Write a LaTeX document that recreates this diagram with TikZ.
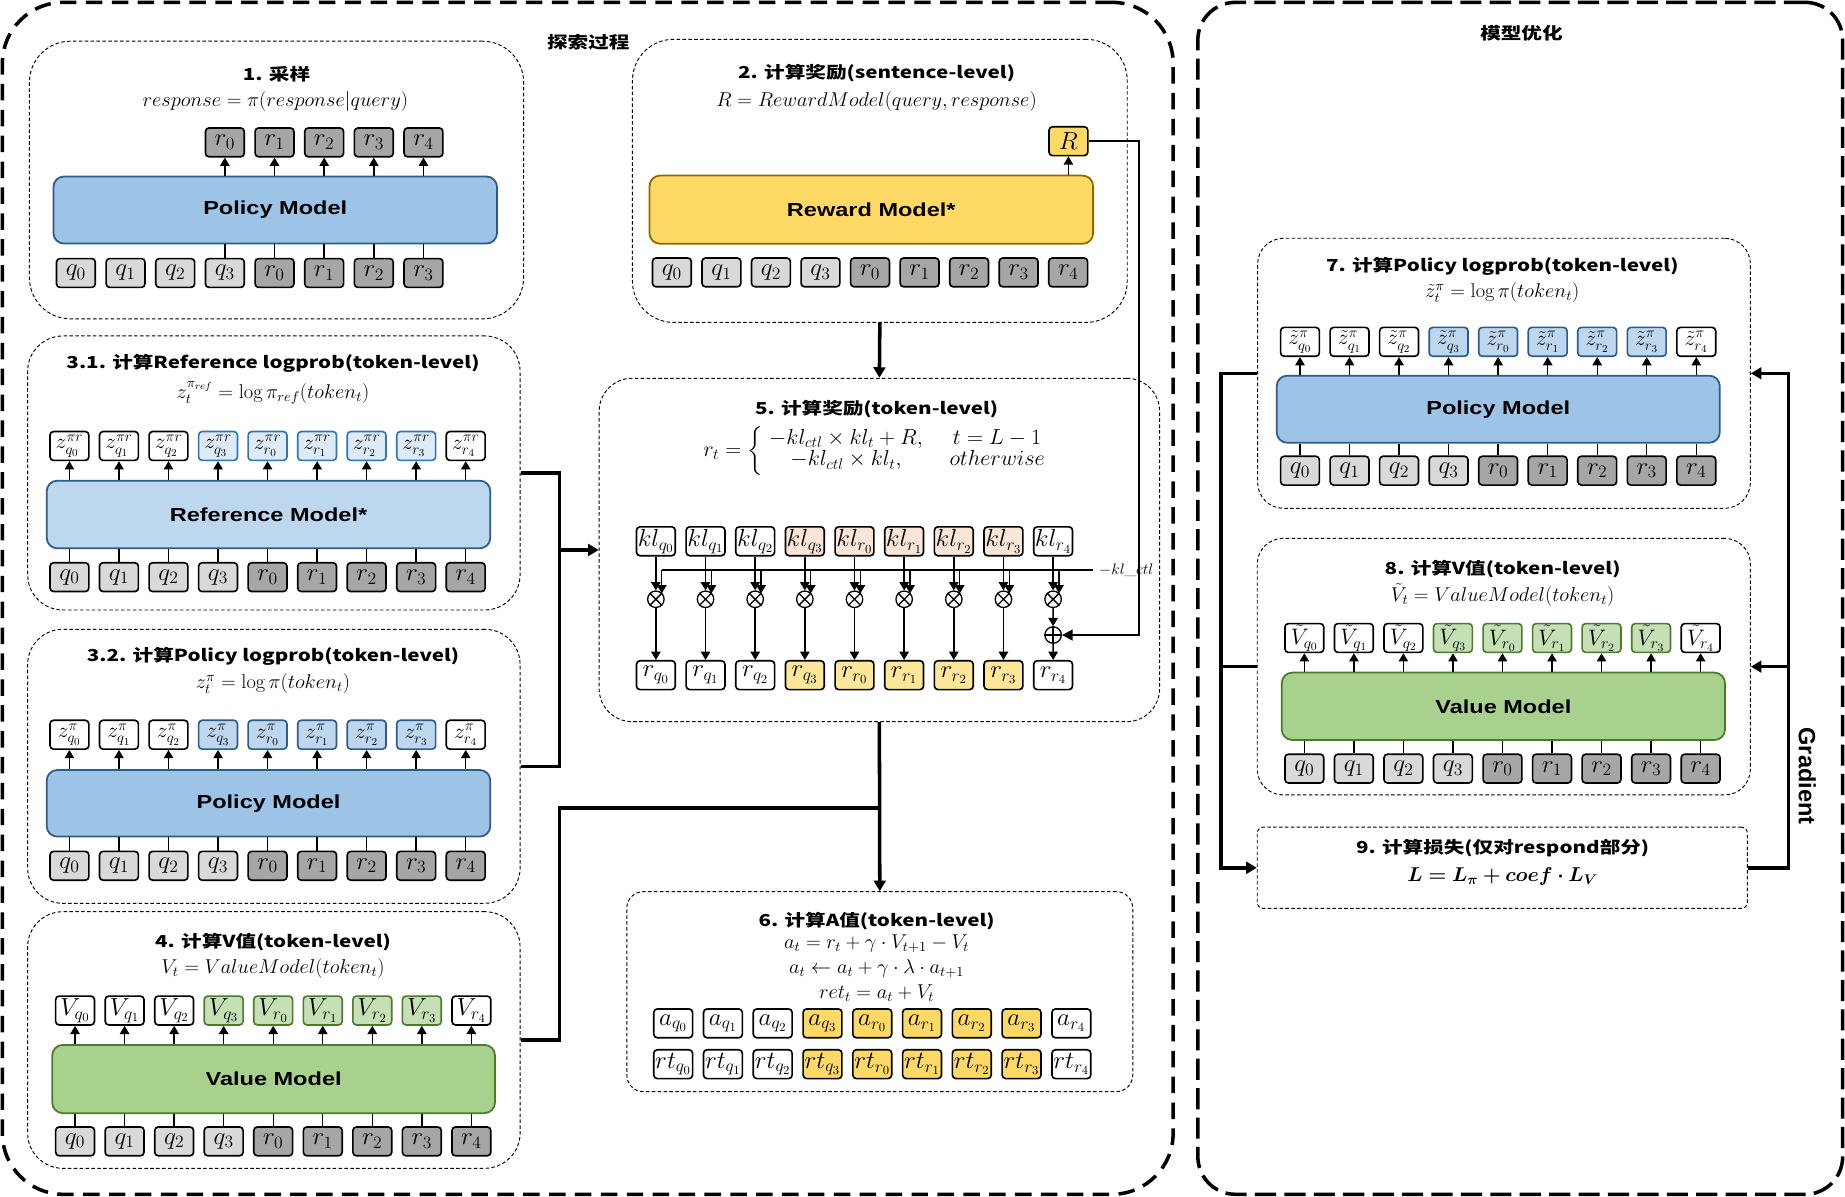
\documentclass[tikz,border=0pt]{standalone}
\usepackage{fix-cm}
\usepackage{amsmath}
\usepackage{bm}
\usepackage{fontspec}
\usepackage{graphicx}
\usetikzlibrary{arrows.meta,calc}
\newfontfamily\cjkf{Noto Sans CJK SC}[FakeStretch=1.25]
\newfontfamily\arialf{Liberation Sans}[FakeStretch=1.25]
\newfontfamily\arialn{Liberation Sans}
\newcommand\hs[1]{\scalebox{1.02}[1]{#1}}
\definecolor{qgray}{HTML}{D9D9D9}
\definecolor{rgray}{HTML}{A6A6A6}
\definecolor{pblue}{HTML}{9DC3E6}
\definecolor{refblue}{HTML}{BDD7EE}
\definecolor{lblue}{HTML}{BDD7EE}
\definecolor{llblue}{HTML}{DEEBF7}
\definecolor{dblue}{HTML}{2E5C8A}
\definecolor{mblue}{HTML}{2E75B6}
\definecolor{vgreen}{HTML}{A9D18E}
\definecolor{lgreen}{HTML}{C5E0B4}
\definecolor{dgreen}{HTML}{4E7A2E}
\definecolor{ryellow}{HTML}{FFD966}
\definecolor{dgold}{HTML}{8C6A00}
\definecolor{peach}{HTML}{FBE5D6}
\definecolor{lyellow}{HTML}{FFE699}
\definecolor{ayellow}{HTML}{FFD966}
\tikzset{
 tok/.style={draw, line width=1.4pt, rounded corners=3pt, minimum width=33pt, minimum height=24.5pt, inner sep=0pt, font=\fontsize{21}{21}\selectfont},
 ztok/.style={tok, font=\fontsize{18}{18}\selectfont},
 vtok/.style={tok, font=\fontsize{19}{19}\selectfont},
 bar/.style={draw, line width=1.5pt, rounded corners=9pt, inner sep=0pt, font=\arialf\bfseries\fontsize{16}{16}\selectfont},
 sect/.style={draw, line width=0.8pt, dash pattern=on 3pt off 2pt, inner sep=0pt},
 outerL/.style={draw, line width=3pt, dash pattern=on 14pt off 8pt, rounded corners=52pt, inner sep=0pt},
 outerR/.style={draw, line width=3pt, dash pattern=on 18pt off 7pt, rounded corners=32pt, inner sep=0pt},
 title/.style={font=\cjkf\bfseries\fontsize{14}{14}\selectfont, inner sep=0pt},
 fml/.style={font=\fontsize{17}{17}\selectfont, inner sep=0pt},
 arr/.style={line width=1.2pt, -{Triangle[width=8pt,length=7pt]}},
 link/.style={line width=1.2pt},
 conn/.style={line width=3pt},
 carr/.style={line width=3pt, -{Triangle[width=10pt,length=9pt]}},
 opnode/.style={circle, draw, line width=1.1pt, minimum size=14pt, inner sep=0pt},
}
\newcommand\inrow[5]{%
  \foreach \s [count=\i from 0] in {q_0,q_1,q_2,q_3,r_0,r_1,r_2,r_3,r_4}{%
    \ifnum\i>#5\relax\else
    \ifnum\i<4 \def\fc{qgray}\else\def\fc{rgray}\fi
    \node[tok, fill=\fc] (#1\i) at ({#2+#3*\i},#4) {\hs{$\s$}};
    \fi
  }}
\newcommand\outrow[8]{%
  \foreach \s [count=\i from 0] in {q_0,q_1,q_2,q_3,r_0,r_1,r_2,r_3,r_4}{%
    \ifnum\i<3 \def\fc{white}\def\dc{black}\else
      \ifnum\i<8 \def\fc{#6}\def\dc{#7}\else\def\fc{white}\def\dc{black}\fi\fi
    \node[#8, fill=\fc, draw=\dc] (#1\i) at ({#2+#3*\i},#4) {\hs{$#5_{\s}$}};
  }}
\begin{document}
\begin{tikzpicture}[x=1pt,y=-1pt]
\useasboundingbox (0,0) rectangle (1568,1017);
% outer frames
\node[outerL, minimum width=995pt, minimum height=1013pt] (OL) at (499.5,508.5) {};
\node[outerR, minimum width=548pt, minimum height=1013pt] (OR) at (1292,508.5) {};
\node[title] (tl) at (500,36) {探索过程};
\node[title] (tr) at (1293,28) {模型优化};
% section frames
\node[sect, rounded corners=35pt, minimum width=420pt, minimum height=236pt] (S1) at (235,153) {};
\node[sect, rounded corners=35pt, minimum width=420.5pt, minimum height=240.6pt] (S2) at (747.75,153.7) {};
\node[sect, rounded corners=30pt, minimum width=418.5pt, minimum height=232.9pt] (S31) at (232.75,401.95) {};
\node[sect, rounded corners=30pt, minimum width=418.5pt, minimum height=232.9pt] (S32) at (232.75,651.25) {};
\node[sect, rounded corners=30pt, minimum width=418.5pt, minimum height=218.1pt] (S4) at (232.75,883.85) {};
\node[sect, rounded corners=28pt, minimum width=476.3pt, minimum height=291.8pt] (S5) at (747.35,467.4) {};
\node[sect, rounded corners=14pt, minimum width=430pt, minimum height=169.9pt] (S6) at (747.7,842.75) {};
\node[sect, rounded corners=22pt, minimum width=418.8pt, minimum height=229.5pt] (S7) at (1278.2,317.25) {};
\node[sect, rounded corners=22pt, minimum width=419.1pt, minimum height=218.1pt] (S8) at (1278.05,566.55) {};
\node[sect, rounded corners=5pt, minimum width=416.5pt, minimum height=69pt] (S9) at (1276.75,737.5) {};

% ---------- S1
\node[title] (t1) at (235,63) {1. 采样};
\node[fml] (f1) at (234,86) {\hs{$response = \pi(response|query)$}};
\node[bar, fill=pblue, draw=dblue, minimum width=377pt, minimum height=57pt] (s1bar) at (233.9,178.5) {Policy Model};
\inrow{s1in}{64.5}{42.2}{232}{7}
\foreach \s [count=\i from 3] in {r_0,r_1,r_2,r_3,r_4}{
  \node[tok, fill=rgray] (s1out\i) at ({64.5+42.2*\i},121) {\hs{$\s$}};
  \draw[arr] (s1out\i.south |- s1bar.north) -- (s1out\i.south);
}
\foreach \i in {3,...,7}{ \draw[link] (s1in\i.north) -- (s1in\i.north |- s1bar.south); }

% ---------- S2
\node[title] (t2) at (745,62) {2. 计算奖励(sentence-level)};
\node[fml] (f2) at (745,86) {\hs{$R = RewardModel(query,response)$}};
\node[bar, fill=ryellow, draw=dgold, minimum width=377pt, minimum height=58pt] (s2bar) at (740.5,178.2) {Reward Model*};
\inrow{s2in}{571}{42.1}{231.5}{8}
\node[tok, fill=ayellow] (Rb) at (908,120) {\hs{$R$}};
\draw[arr] (Rb.south |- s2bar.north) -- (Rb.south);

% ---------- S3.1
\node[title] (t31) at (232,309) {3.1. 计算Reference logprob(token-level)};
\node[fml] (f31) at (232,334) {\hs{$z_t^{\pi_{ref}} = \log\pi_{ref}(token_t)$}};
\node[bar, fill=refblue, draw=dblue, minimum width=377pt, minimum height=57.5pt] (s31bar) at (228.2,437.25) {Reference Model*};
\outrow{s31out}{59}{42.1}{379}{z^{\pi r}}{llblue}{mblue}{ztok}
\inrow{s31in}{59}{42.1}{490.5}{8}
\foreach \i in {0,...,8}{
  \draw[link] (s31in\i.north) -- (s31in\i.north |- s31bar.south);
  \draw[arr] (s31out\i.south |- s31bar.north) -- (s31out\i.south);
}

% ---------- S3.2
\node[title] (t32) at (232,557.5) {3.2. 计算Policy logprob(token-level)};
\node[fml] (f32) at (232,581) {\hs{$z_t^{\pi} = \log\pi(token_t)$}};
\node[bar, fill=pblue, draw=dblue, minimum width=377pt, minimum height=56.6pt] (s32bar) at (228.2,682.7) {Policy Model};
\outrow{s32out}{59}{42.1}{624.4}{z^{\pi}}{lblue}{dblue}{ztok}
\inrow{s32in}{59}{42.1}{735.8}{8}
\foreach \i in {0,...,8}{
  \draw[link] (s32in\i.north) -- (s32in\i.north |- s32bar.south);
  \draw[arr] (s32out\i.south |- s32bar.north) -- (s32out\i.south);
}

% ---------- S4
\node[title] (t4) at (232,800.5) {4. 计算V值(token-level)};
\node[fml] (f4) at (232,823.5) {\hs{$V_t = ValueModel(token_t)$}};
\node[bar, fill=vgreen, draw=dgreen, minimum width=376.3pt, minimum height=58pt] (s4bar) at (232.55,917) {Value Model};
\outrow{s4out}{63.8}{42.1}{858.8}{V}{lgreen}{dgreen}{tok}
\inrow{s4in}{63.8}{42.1}{970}{8}
\foreach \i in {0,...,8}{
  \draw[link] (s4in\i.north) -- (s4in\i.north |- s4bar.south);
  \draw[arr] (s4out\i.south |- s4bar.north) -- (s4out\i.south);
}

% ---------- S5
\node[title] (t5) at (745,348) {5. 计算奖励(token-level)};
\node[fml, font=\fontsize{18.5}{18.5}\selectfont] (f5) at (746,383) {\hs{$r_t = \left\{\begin{array}{c@{\hspace{1.2em}}c} -kl_{ctl}\times kl_t + R, & t = L-1\\ -kl_{ctl}\times kl_t, & otherwise \end{array}\right.$}};
\outrow{kl}{557.4}{42.2}{460}{kl}{peach}{black}{tok}
\outrow{rr}{557.4}{42.2}{573.8}{r}{lyellow}{black}{tok}
\foreach \i in {0,...,8}{
  \node[opnode] (ot\i) at ({557.4+42.2*\i},509.3) {};
  \draw[line width=1.1pt] (ot\i.north west) -- (ot\i.south east) (ot\i.north east) -- (ot\i.south west);
}
\node[opnode] (plus) at (895,539.7) {};
\draw[line width=1.1pt] (plus.north) -- (plus.south) (plus.west) -- (plus.east);
\coordinate (klend) at (929,484.3);
\draw[line width=1.4pt] ($(ot0.center)+(5,-25)$) -- (klend);
\node[anchor=west, inner sep=0pt, font=\fontsize{13}{13}\selectfont] (kllab) at (934,484.3) {\hs{$-kl\_ctl$}};
\foreach \i in {0,...,8}{
  \draw[arr] (kl\i.south) -- (ot\i.north);
  \draw[arr] ($(ot\i.center)+(5,-25)$) -- ($(ot\i.center)+(5,-5)$);
}
\foreach \i in {0,...,7}{ \draw[arr] (ot\i.south) -- (rr\i.north); }
\draw[arr] (ot8.south) -- (plus.north);
\draw[arr] (plus.south) -- (rr8.north);
\draw[line width=2pt, -{Triangle[width=9pt,length=9pt]}] (Rb.east) -- ++(43,0) |- (plus.east);

% ---------- S6
\node[title] (t6) at (745,783) {6. 计算A值(token-level)};
\node[fml] (f6a) at (745,801.7) {\hs{$a_t = r_t + \gamma\cdot V_{t+1} - V_t$}};
\node[fml] (f6b) at (745,822.9) {\hs{$a_t \leftarrow a_t + \gamma\cdot\lambda\cdot a_{t+1}$}};
\node[fml] (f6c) at (745,844.2) {\hs{$ret_t = a_t + V_t$}};
\outrow{aa}{572.1}{42.3}{869.7}{a}{ayellow}{black}{tok}
\outrow{rt}{572.1}{42.3}{904.4}{rt}{ayellow}{black}{tok}

% ---------- S7
\node[title] (t7) at (1276.7,226) {7. 计算Policy logprob(token-level)};
\node[fml] (f7) at (1276.7,248.5) {\hs{$\tilde{z}_t^{\pi} = \log\pi(token_t)$}};
\node[bar, fill=pblue, draw=dblue, minimum width=376.6pt, minimum height=57pt] (s7bar) at (1273.3,347.75) {Policy Model};
\outrow{s7out}{1104.8}{42.1}{290.5}{\tilde{z}^{\pi}}{lblue}{dblue}{ztok}
\inrow{s7in}{1104.8}{42.1}{400}{8}
\foreach \i in {0,...,8}{
  \draw[link] (s7in\i.north) -- (s7in\i.north |- s7bar.south);
  \draw[arr] (s7out\i.south |- s7bar.north) -- (s7out\i.south);
}

% ---------- S8
\node[title] (t8) at (1277,483.5) {8. 计算V值(token-level)};
\node[fml] (f8) at (1277,506) {\hs{$\tilde{V}_t = ValueModel(token_t)$}};
\node[bar, fill=vgreen, draw=dgreen, minimum width=376.7pt, minimum height=57.3pt] (s8bar) at (1277.65,600.25) {Value Model};
\outrow{s8out}{1108.5}{42.1}{542.2}{\tilde{V}}{lgreen}{dgreen}{vtok}
\inrow{s8in}{1108.5}{42.1}{653.2}{8}
\foreach \i in {0,...,8}{
  \draw[link] (s8in\i.north) -- (s8in\i.north |- s8bar.south);
  \draw[arr] (s8out\i.south |- s8bar.north) -- (s8out\i.south);
}

% ---------- S9
\node[title] (t9) at (1277,720.5) {9. 计算损失(仅对respond部分)};
\node[fml] (f9) at (1277,744.5) {\hs{$\bm{L = L_\pi + coef\cdot L_V}$}};
\node[font=\arialn\bfseries\fontsize{20}{20}\selectfont, rotate=-90, inner sep=0pt] (grad) at (1536,659.5) {Gradient};

% ---------- connectors
\coordinate (j1) at (475.5,401.95);
\coordinate (j2) at (475.5,686.7);
\draw[conn] (S31.east) -- (j1) |- (S32.east);
\draw[carr] (j1 |- S5.west) -- (S5.west);
\draw[conn] (S4.east) -| (j2) -- (j2 -| S5.south);
\draw[carr] (S2.south) -- (S5.north);
\draw[carr] (S5.south) -- (S6.north);
\coordinate (jl) at (1037.7,0);
\coordinate (jr) at (1520,0);
\draw[carr] (S7.west) -- (S7.west -| jl) |- (S9.west);
\draw[conn] (S8.west) -- (S8.west -| jl);
\draw[carr] (S9.east) -- (S9.east -| jr) |- (S7.east);
\draw[carr] (S8.east -| jr) -- (S8.east);
\end{tikzpicture}
\end{document}
